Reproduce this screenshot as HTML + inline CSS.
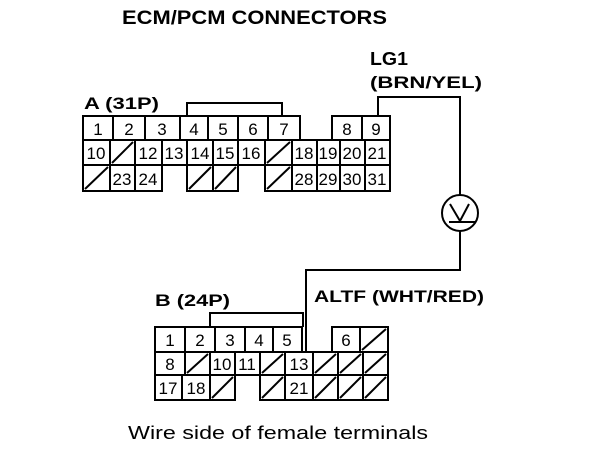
<!DOCTYPE html>
<html><head><meta charset="utf-8"><style>
html,body{margin:0;padding:0;background:#fff;}
svg{display:block;}
text{font-family:"Liberation Sans",Arial,sans-serif;fill:#000;}
.b{font-weight:bold;}
.c{font-size:17px;text-anchor:middle;}
</style></head><body>
<svg width="608" height="456" viewBox="0 0 608 456" xmlns="http://www.w3.org/2000/svg">
<g stroke="#000" stroke-width="2" fill="none">
<polyline points="378,117 378,97 460,97 460,195"/>
<circle cx="460" cy="213" r="18"/>
<polyline points="460,231 460,270 306,270 306,352"/>
<polyline points="450,204 460,221 469,204"/>
<line x1="449" y1="222" x2="476" y2="222"/>
<polyline points="187,116 187,103 282,103 282,116"/>
<polyline points="210,327 210,313 303,313 303,327"/>
<rect x="83" y="116" width="30" height="24"/><rect x="113" y="116" width="32" height="24"/>
<rect x="145" y="116" width="35" height="24"/><rect x="180" y="116" width="28" height="24"/>
<rect x="208" y="116" width="30" height="24"/><rect x="238" y="116" width="30" height="24"/>
<rect x="268" y="116" width="32" height="24"/>
<rect x="332" y="116" width="30" height="24"/><rect x="362" y="116" width="28" height="24"/>
<rect x="83" y="140" width="27" height="25"/><rect x="110" y="140" width="25" height="25"/>
<rect x="135" y="140" width="27" height="25"/><rect x="162" y="140" width="25" height="25"/>
<rect x="187" y="140" width="26" height="25"/><rect x="213" y="140" width="25" height="25"/>
<rect x="238" y="140" width="27" height="25"/><rect x="265" y="140" width="27" height="25"/>
<rect x="292" y="140" width="25" height="25"/><rect x="317" y="140" width="23" height="25"/>
<rect x="340" y="140" width="25" height="25"/><rect x="365" y="140" width="25" height="25"/>
<rect x="83" y="165" width="27" height="26"/><rect x="110" y="165" width="25" height="26"/>
<rect x="135" y="165" width="27" height="26"/>
<rect x="187" y="165" width="26" height="26"/><rect x="213" y="165" width="25" height="26"/>
<rect x="265" y="165" width="27" height="26"/><rect x="292" y="165" width="25" height="26"/>
<rect x="317" y="165" width="23" height="26"/><rect x="340" y="165" width="25" height="26"/>
<rect x="365" y="165" width="25" height="26"/>
<line x1="112" y1="163" x2="133" y2="142"/>
<line x1="267" y1="163" x2="290" y2="142"/>
<line x1="85" y1="189" x2="108" y2="167"/>
<line x1="189" y1="189" x2="211" y2="167"/>
<line x1="215" y1="189" x2="236" y2="167"/>
<line x1="267" y1="189" x2="290" y2="167"/>
<rect x="155" y="327" width="30" height="25"/><rect x="185" y="327" width="30" height="25"/>
<rect x="215" y="327" width="30" height="25"/><rect x="245" y="327" width="28" height="25"/>
<rect x="273" y="327" width="29" height="25"/>
<rect x="332" y="327" width="28" height="25"/><rect x="360" y="327" width="28" height="25"/>
<rect x="155" y="352" width="30" height="23"/><rect x="185" y="352" width="25" height="23"/>
<rect x="210" y="352" width="25" height="23"/><rect x="235" y="352" width="25" height="23"/>
<rect x="260" y="352" width="25" height="23"/><rect x="285" y="352" width="28" height="23"/>
<rect x="313" y="352" width="25" height="23"/><rect x="338" y="352" width="25" height="23"/>
<rect x="363" y="352" width="25" height="23"/>
<rect x="155" y="375" width="27" height="25"/><rect x="182" y="375" width="28" height="25"/>
<rect x="210" y="375" width="25" height="25"/>
<rect x="260" y="375" width="25" height="25"/><rect x="285" y="375" width="28" height="25"/>
<rect x="313" y="375" width="25" height="25"/><rect x="338" y="375" width="25" height="25"/>
<rect x="363" y="375" width="25" height="25"/>
<line x1="362" y1="350" x2="386" y2="329"/>
<line x1="187" y1="373" x2="208" y2="354"/>
<line x1="262" y1="373" x2="283" y2="354"/>
<line x1="315" y1="373" x2="336" y2="354"/>
<line x1="340" y1="373" x2="361" y2="354"/>
<line x1="365" y1="373" x2="386" y2="354"/>
<line x1="212" y1="398" x2="233" y2="377"/>
<line x1="262" y1="398" x2="283" y2="377"/>
<line x1="315" y1="398" x2="336" y2="377"/>
<line x1="340" y1="398" x2="361" y2="377"/>
<line x1="365" y1="398" x2="386" y2="377"/>
</g>
<text class="b" x="122" y="24" font-size="19" textLength="265" lengthAdjust="spacingAndGlyphs">ECM/PCM CONNECTORS</text>
<text class="b" x="370" y="65" font-size="18" textLength="38" lengthAdjust="spacingAndGlyphs">LG1</text>
<text class="b" x="370" y="88" font-size="17" textLength="112" lengthAdjust="spacingAndGlyphs">(BRN/YEL)</text>
<text class="b" x="84" y="109" font-size="17" textLength="75" lengthAdjust="spacingAndGlyphs">A (31P)</text>
<text class="b" x="155" y="306" font-size="17" textLength="75" lengthAdjust="spacingAndGlyphs">B (24P)</text>
<text class="b" x="314" y="302" font-size="17" textLength="170" lengthAdjust="spacingAndGlyphs">ALTF (WHT/RED)</text>
<text x="128" y="439" font-size="18" textLength="300" lengthAdjust="spacingAndGlyphs">Wire side of female terminals</text>
<g class="c">
<text x="98" y="135">1</text><text x="129" y="135">2</text><text x="162" y="135">3</text><text x="194" y="135">4</text><text x="223" y="135">5</text><text x="253" y="135">6</text><text x="284" y="135">7</text><text x="347" y="135">8</text><text x="376" y="135">9</text>
<text x="96" y="159">10</text><text x="148" y="159">12</text><text x="174" y="159">13</text><text x="200" y="159">14</text><text x="225" y="159">15</text><text x="251" y="159">16</text><text x="304" y="159">18</text><text x="328" y="159">19</text><text x="352" y="159">20</text><text x="377" y="159">21</text>
<text x="122" y="185">23</text><text x="148" y="185">24</text><text x="304" y="185">28</text><text x="328" y="185">29</text><text x="352" y="185">30</text><text x="377" y="185">31</text>
<text x="170" y="346">1</text><text x="200" y="346">2</text><text x="230" y="346">3</text><text x="259" y="346">4</text><text x="287" y="346">5</text><text x="346" y="346">6</text>
<text x="170" y="370">8</text><text x="222" y="370">10</text><text x="247" y="370">11</text><text x="299" y="370">13</text>
<text x="168" y="394">17</text><text x="196" y="394">18</text><text x="299" y="394">21</text>
</g>
</svg>
</body></html>
